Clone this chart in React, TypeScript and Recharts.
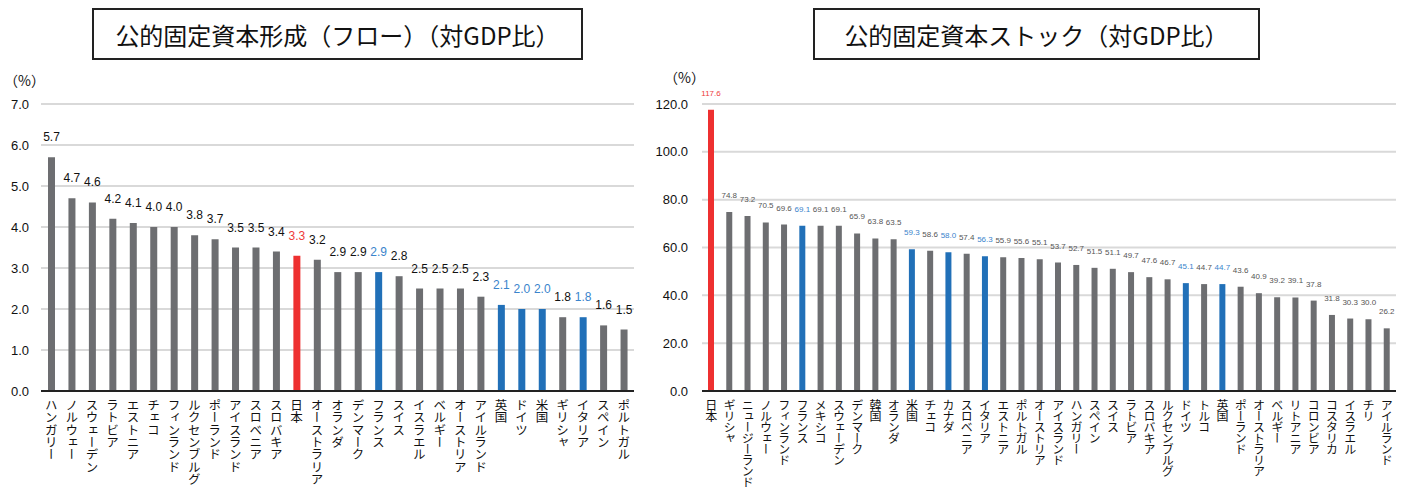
import { BarChart, Bar, XAxis, YAxis, CartesianGrid, Cell, LabelList } from "recharts";

// 公的固定資本形成（フロー）
const flowCountries = [
  "ハンガリー", "ノルウェー", "スウェーデン", "ラトビア", "エストニア", "チェコ", "フィンランド",
  "ルクセンブルグ", "ポーランド", "アイスランド", "スロベニア", "スロバキア", "日本", "オーストラリア",
  "オランダ", "デンマーク", "フランス", "スイス", "イスラエル", "ベルギー", "オーストリア",
  "アイルランド", "英国", "ドイツ", "米国", "ギリシャ", "イタリア", "スペイン", "ポルトガル",
];
const flowValues = [
  5.7, 4.7, 4.6, 4.2, 4.1, 4.0, 4.0, 3.8, 3.7, 3.5, 3.5, 3.4, 3.3, 3.2,
  2.9, 2.9, 2.9, 2.8, 2.5, 2.5, 2.5, 2.3, 2.1, 2.0, 2.0, 1.8, 1.8, 1.6, 1.5,
];
const flowTicks = [0, 1, 2, 3, 4, 5, 6, 7];

// 公的固定資本ストック
const stockCountries = [
  "日本", "ギリシャ", "ニュージーランド", "ノルウェー", "フィンランド", "フランス", "メキシコ",
  "スウェーデン", "デンマーク", "韓国", "オランダ", "米国", "チェコ", "カナダ", "スロベニア",
  "イタリア", "エストニア", "ポルトガル", "オーストリア", "アイスランド", "ハンガリー", "スペイン",
  "スイス", "ラトビア", "スロバキア", "ルクセンブルグ", "ドイツ", "トルコ", "英国", "ポーランド",
  "オーストラリア", "ベルギー", "リトアニア", "コロンビア", "コスタリカ", "イスラエル", "チリ",
  "アイルランド",
];
const stockValues = [
  117.6, 74.8, 73.2, 70.5, 69.6, 69.1, 69.1, 69.1, 65.9, 63.8, 63.5, 59.3, 58.6, 58.0, 57.4,
  56.3, 55.9, 55.6, 55.1, 53.7, 52.7, 51.5, 51.1, 49.7, 47.6, 46.7, 45.1, 44.7, 44.7, 43.6,
  40.9, 39.2, 39.1, 37.8, 31.8, 30.3, 30.0, 26.2,
];
const stockTicks = [0, 20, 40, 60, 80, 100, 120];

const g7 = ["米国", "英国", "ドイツ", "フランス", "イタリア", "カナダ"];

const BAR_GRAY = "#6d6e71";
const BAR_RED = "#ee3030";
const BAR_BLUE = "#2170b8";
const JP_FONT = "'Noto Sans CJK JP', 'Noto Sans', sans-serif";
const NUM_FONT = "'Liberation Sans', Arial, sans-serif";

function barColor(name: string) {
  if (name === "日本") return BAR_RED;
  if (g7.includes(name)) return BAR_BLUE;
  return BAR_GRAY;
}

function labelColor(name: string, base: string) {
  if (name === "日本") return "#ee3b3b";
  if (g7.includes(name)) return "#3a84cc";
  return base;
}

// country names run top-to-bottom under each bar
function VerticalTick({ x, y, payload, fontSize, spacing }: any) {
  return (
    <text
      x={x}
      y={y + 6}
      fill="#111"
      fontSize={fontSize}
      fontFamily={JP_FONT}
      style={{ writingMode: "vertical-rl", letterSpacing: spacing }}
    >
      {payload.value}
    </text>
  );
}

function makeLabel(rows: { name: string; value: number }[], fontSize: number, gap: number, base: string) {
  return (props: any) => {
    const { x, y, width, index } = props;
    const row = rows[index];
    return (
      <text
        x={x + width / 2}
        y={y - gap}
        textAnchor="middle"
        fontSize={fontSize}
        fontFamily={NUM_FONT}
        fill={labelColor(row.name, base)}
      >
        {row.value.toFixed(1)}
      </text>
    );
  };
}

function TitleBox({ left, width, text }: { left: number; width: number; text: string }) {
  return (
    <div
      style={{
        position: "absolute",
        left,
        top: 8,
        width,
        height: 52,
        boxSizing: "border-box",
        border: "2px solid #222",
        display: "flex",
        alignItems: "center",
        justifyContent: "center",
        fontFamily: JP_FONT,
        fontSize: 24,
        color: "#111",
        whiteSpace: "nowrap",
      }}
    >
      {text}
    </div>
  );
}

const unitStyle = {
  position: "absolute" as const,
  fontFamily: JP_FONT,
  fontSize: 14,
  color: "#111",
  lineHeight: "16px",
};

export default function App() {
  const flowRows = flowCountries.map((name, i) => ({ name, value: flowValues[i] }));
  const stockRows = stockCountries.map((name, i) => ({ name, value: stockValues[i] }));

  return (
    <div style={{ position: "absolute", left: 0, top: 0, width: 1408, height: 488, background: "#fff", overflow: "hidden" }}>
      <TitleBox left={92} width={491} text="公的固定資本形成（フロー）（対GDP比）" />
      <TitleBox left={813} width={447} text="公的固定資本ストック（対GDP比）" />
      <div style={{ ...unitStyle, left: 4, top: 72 }}>（%）</div>
      <div style={{ ...unitStyle, left: 664, top: 69 }}>（%）</div>

      <div style={{ position: "absolute", left: 0, top: 0 }}>
        <BarChart width={640} height={488} data={flowRows} margin={{ top: 104, right: 6, left: 0, bottom: 0 }}>
          <CartesianGrid vertical={false} stroke="#d9d9d9" strokeWidth={2} />
          <XAxis
            dataKey="name"
            interval={0}
            height={97}
            tickSize={0}
            tickLine={false}
            axisLine={{ stroke: "#222", strokeWidth: 2 }}
            tick={<VerticalTick fontSize={12.5} spacing={-0.2} />}
          />
          <YAxis
            width={41}
            domain={[0, 7]}
            ticks={flowTicks}
            tickFormatter={(v: number) => v.toFixed(1)}
            axisLine={false}
            tickLine={false}
            tickSize={0}
            tickMargin={12}
            tick={{ fill: "#111", fontSize: 13, fontFamily: NUM_FONT }}
          />
          <Bar dataKey="value" barSize={7} isAnimationActive={false}>
            {flowRows.map((r) => (
              <Cell key={r.name} fill={barColor(r.name)} />
            ))}
            <LabelList dataKey="value" content={makeLabel(flowRows, 12, 16, "#111")} />
          </Bar>
        </BarChart>
      </div>

      <div style={{ position: "absolute", left: 640, top: 0 }}>
        <BarChart width={768} height={488} data={stockRows} margin={{ top: 104, right: 12, left: 0, bottom: 0 }}>
          <CartesianGrid vertical={false} stroke="#d9d9d9" strokeWidth={2} />
          <XAxis
            dataKey="name"
            interval={0}
            height={97}
            tickSize={0}
            tickLine={false}
            axisLine={{ stroke: "#222", strokeWidth: 2 }}
            tick={<VerticalTick fontSize={12} spacing={-1} />}
          />
          <YAxis
            width={62}
            domain={[0, 120]}
            ticks={stockTicks}
            tickFormatter={(v: number) => v.toFixed(1)}
            axisLine={false}
            tickLine={false}
            tickSize={0}
            tickMargin={14}
            tick={{ fill: "#111", fontSize: 13, fontFamily: NUM_FONT }}
          />
          <Bar dataKey="value" barSize={6} isAnimationActive={false}>
            {stockRows.map((r) => (
              <Cell key={r.name} fill={barColor(r.name)} />
            ))}
            <LabelList dataKey="value" content={makeLabel(stockRows, 8, 14, "#555")} />
          </Bar>
        </BarChart>
      </div>
    </div>
  );
}
